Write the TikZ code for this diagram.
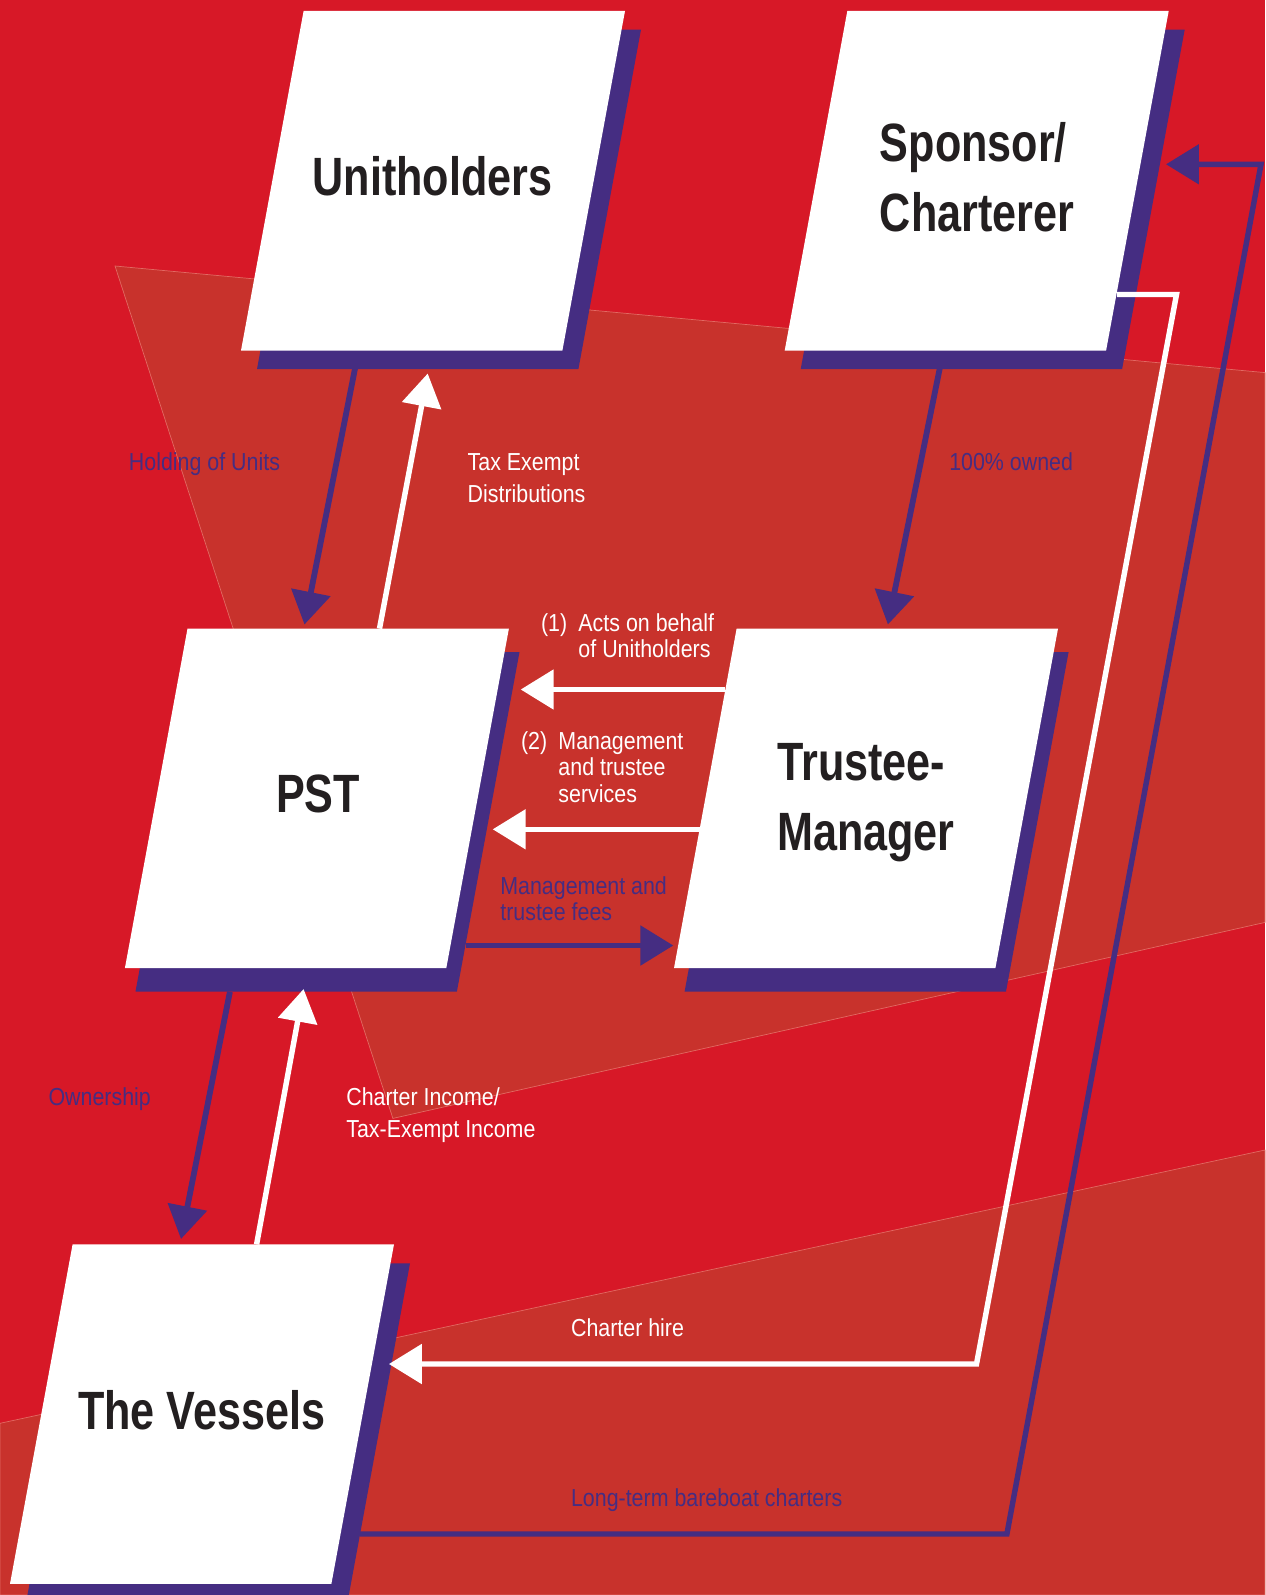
\documentclass[tikz,border=0pt]{standalone}
\usepackage{fontspec}
\usetikzlibrary{arrows.meta}
\newfontfamily\boxfont{Liberation Sans}[FakeStretch=0.80]
\newfontfamily\labfont{Liberation Sans}[FakeStretch=0.87]
\definecolor{bred}{RGB}{215,24,39}
\definecolor{dred}{RGB}{200,50,44}
\definecolor{edgec}{RGB}{226,105,98}
\definecolor{purp}{RGB}{69,45,130}
\definecolor{ink}{RGB}{35,31,32}
\newcommand\pgbox[4]{%
  \fill[purp] ({#1+#3},{#2+#4}) -- ++(321.4,0) -- ++(-62.6,339.5) -- ++(-321.4,0) -- cycle;
  \fill[white] (#1,#2) -- ++(321.4,0) -- ++(-62.6,339.5) -- ++(-321.4,0) -- cycle;}
\tikzset{
  boxtext/.style={font=\boxfont\bfseries\fontsize{30.7}{40}\selectfont, text=ink, align=left, inner sep=0pt},
  lab/.style={font=\labfont\fontsize{14}{18.4}\selectfont, inner sep=0pt, anchor=base west},
  labtight/.style={lab, font=\labfont\fontsize{14}{15.1}\selectfont},
  wlab/.style={text=white},
  plab/.style={text=purp},
  warrow/.style={draw=white, line width=3.1pt, -{Triangle[length=18.7pt,width=22.1pt]}},
  parrow/.style={draw=purp, line width=3.3pt, -{Triangle[length=18.7pt,width=22.1pt]}},
  band/.style={fill=dred, draw=edgec, line width=0.4pt}
}
\begin{document}
\begin{tikzpicture}[x=0.02cm, y=-0.02cm]
\useasboundingbox (0,0) rectangle (1265,1595);
% background
\fill[bred] (0,0) rectangle (1265,1595);
\filldraw[band] (115,266) -- (1265,372.6) -- (1265,922.4) -- (392.9,1118.4) -- cycle;
\filldraw[band] (0,1423.3) -- (1265,1150) -- (1265,1595) -- (0,1595) -- cycle;

% boxes
\pgbox{303.6}{11}{16}{18.6}
\pgbox{847.3}{11}{16}{18.6}
\pgbox{187.5}{628.6}{10.6}{23.4}
\pgbox{736.6}{628.6}{10.6}{23.4}
\pgbox{72.6}{1244.3}{16}{19}

\node[boxtext] (u) at (432.6,176.5) {Unitholders};
\node[boxtext] (s) at (977,177.5) {Sponsor/\\Charterer};
\node[boxtext] (p) at (318,794) {PST};
\node[boxtext] (t) at (866,802.5) {Trustee-\\Manager};
\node[boxtext] (v) at (201.7,1410) {The Vessels};

% connector end points
\coordinate (uA) at (355,368.6);   \coordinate (pA) at (304.5,624.5);
\coordinate (pB) at (379.5,628.6); \coordinate (uB) at (427.7,373.5);
\coordinate (sA) at (939.7,368.6); \coordinate (tA) at (887.9,624.5);
\coordinate (tB) at (725.4,689.5); \coordinate (pC) at (520.7,689.5);
\coordinate (tC) at (699.5,829.3); \coordinate (pD) at (492.7,829.3);
\coordinate (pE) at (466,945.5);   \coordinate (tD) at (673.3,945.5);
\coordinate (pF) at (229.9,991.8); \coordinate (vA) at (181,1239);
\coordinate (vB) at (256.6,1244.3);\coordinate (pG) at (303.6,989);
\coordinate (sB) at (1117,294.5);  \coordinate (c1) at (1176.5,294.5);
\coordinate (c2) at (976.5,1364);  \coordinate (vC) at (388.9,1364);
\coordinate (vD) at (359.5,1534);  \coordinate (c3) at (1006.9,1534);
\coordinate (c4) at (1261,164.3);  \coordinate (sC) at (1166,164.3);

% connectors
\draw[parrow] (uA) -- (pA);
\draw[warrow] (pB) -- (uB);
\draw[parrow] (sA) -- (tA);
\draw[warrow] (tB) -- (pC);
\draw[warrow] (tC) -- (pD);
\draw[parrow] (pE) -- (tD);
\draw[parrow] (pF) -- (vA);
\draw[warrow] (vB) -- (pG);
\draw[warrow, line join=miter] (sB) -- (c1) -- (c2) -- (vC);
\draw[parrow, line width=3.1pt, line join=miter] (vD) -- (c3) -- (c4) -- (sC);

% labels
\node[lab, plab] (l1) at (128.6,470) {Holding of Units};
\node[lab, wlab] (l2) at (467.3,470) {\begin{tabular}[t]{@{}l@{}}Tax Exempt\\Distributions\end{tabular}};
\node[lab, plab] (l3) at (948.9,470) {100\% owned};
\node[labtight, wlab] (l4) at (540.7,631) {\begin{tabular}[t]{@{}l@{}l@{}}\makebox[21.3pt][l]{(1)}&Acts on behalf\\&of Unitholders\end{tabular}};
\node[labtight, wlab] (l5) at (520.7,749.3) {\begin{tabular}[t]{@{}l@{}l@{}}\makebox[21.3pt][l]{(2)}&Management\\&and trustee\\&services\end{tabular}};
\node[labtight, plab] (l6) at (500,894.3) {\begin{tabular}[t]{@{}l@{}}Management and\\trustee fees\end{tabular}};
\node[lab, plab] (l7) at (48.2,1105.5) {Ownership};
\node[lab, wlab] (l8) at (346,1105.5) {\begin{tabular}[t]{@{}l@{}}Charter Income/\\Tax-Exempt Income\end{tabular}};
\node[lab, wlab] (l9) at (570.7,1336.7) {Charter hire};
\node[lab, plab] (l10) at (570.7,1506.7) {Long-term bareboat charters};
\end{tikzpicture}
\end{document}
